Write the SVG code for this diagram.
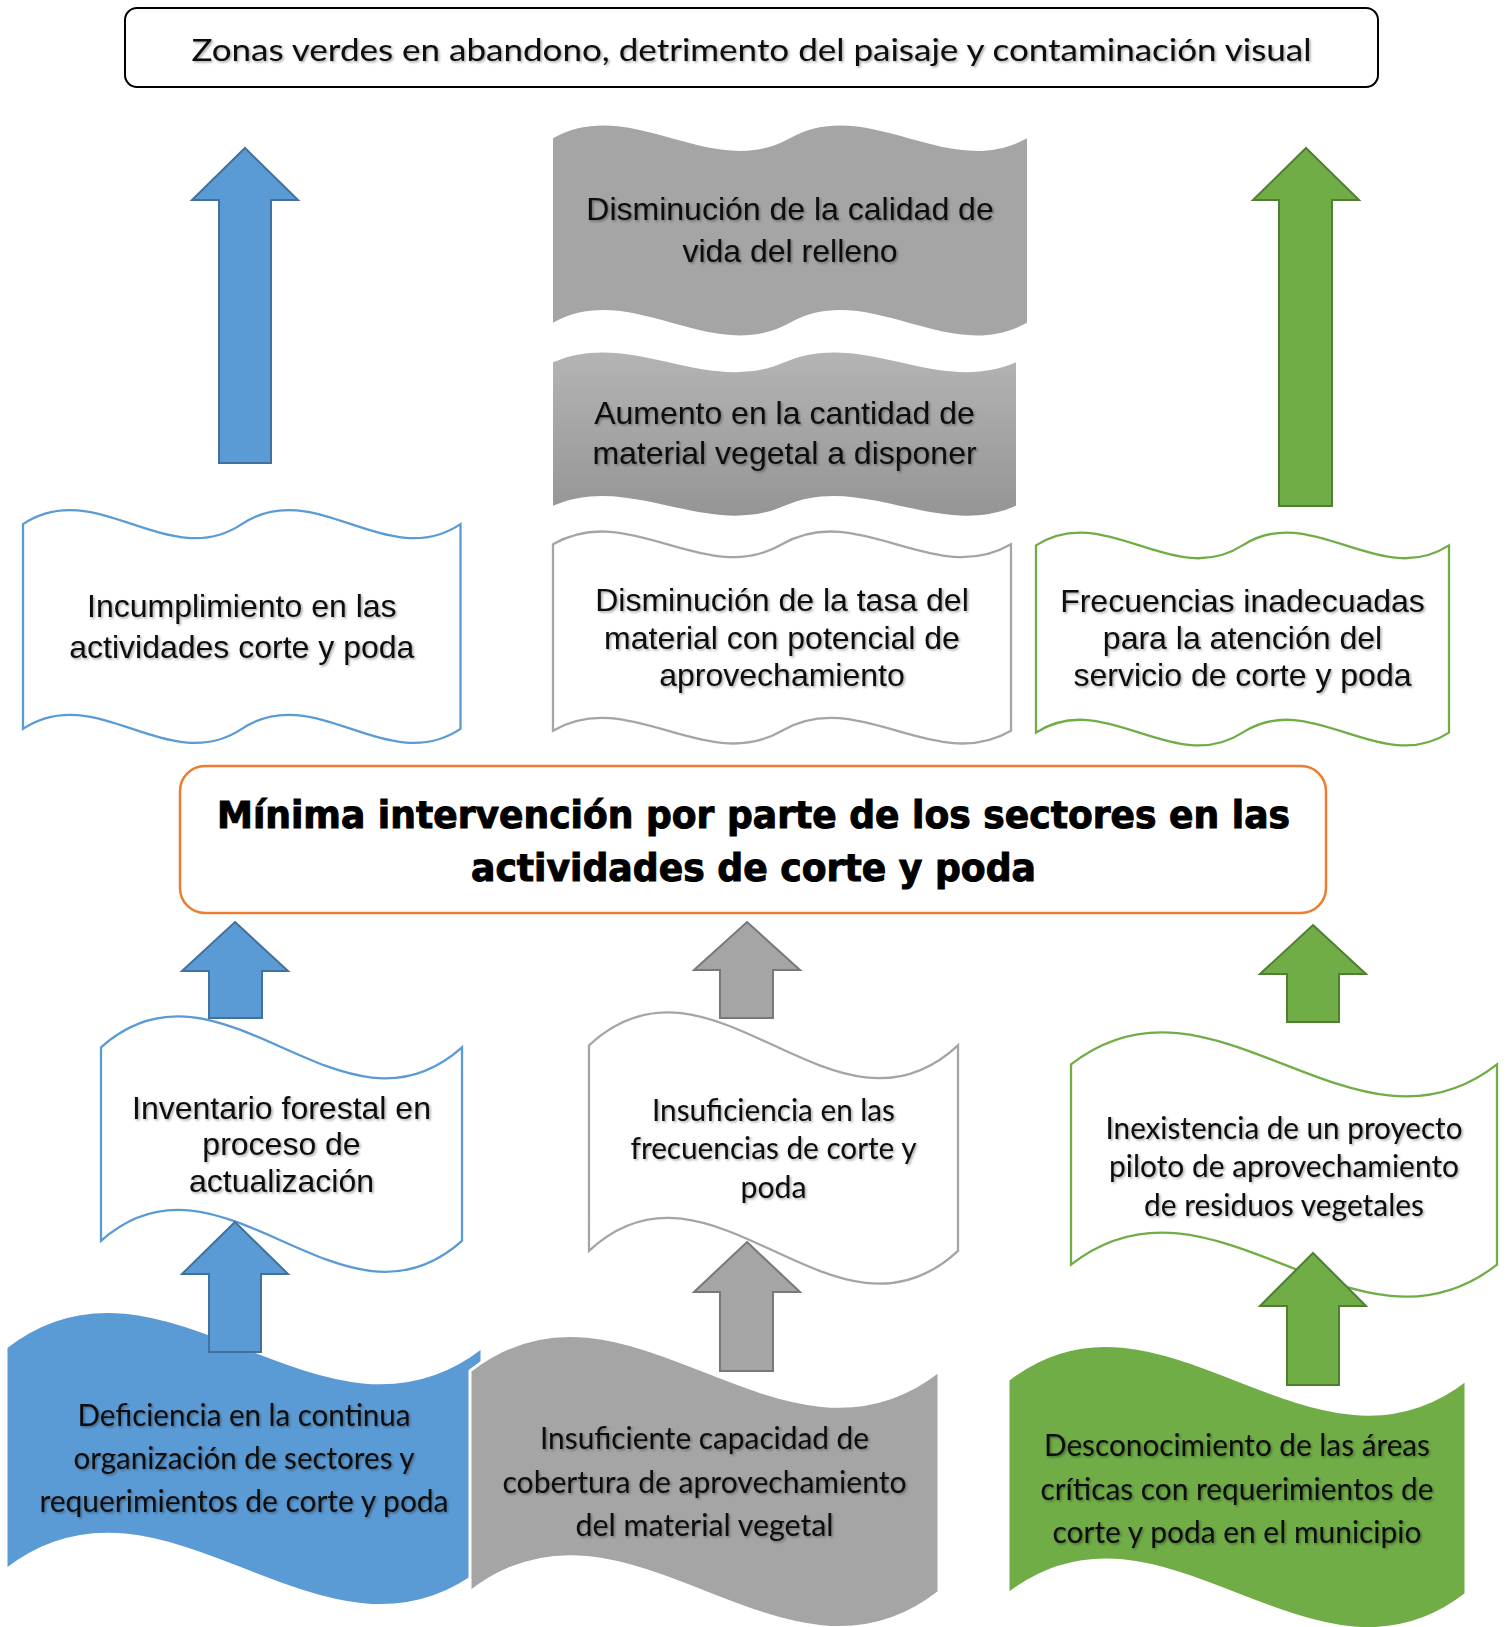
<svg xmlns="http://www.w3.org/2000/svg" width="1507" height="1627" viewBox="0 0 1507 1627">
<defs>
<style>
.ar{font-family:"Liberation Sans",Arial,sans-serif;font-size:32px;fill:#0d0d0d;text-anchor:middle}
.ca{font-family:Lato,"Open Sans",sans-serif;font-size:30px;fill:#0d0d0d;text-anchor:middle}
.bd{font-family:"DejaVu Sans",sans-serif;font-weight:bold;font-size:36.5px;fill:#000;stroke:#000;stroke-width:1;text-anchor:middle}
.sh{filter:url(#ts)}
.wb{fill:#fff;stroke:#5B9BD5;stroke-width:2.3}
.wg{fill:#fff;stroke:#A5A5A5;stroke-width:2.3}
.wn{fill:#fff;stroke:#70AD47;stroke-width:2.3}
.ab{fill:#5B9BD5;stroke:#41719C;stroke-width:2}
.ag{fill:#A5A5A5;stroke:#787878;stroke-width:2}
.an{fill:#70AD47;stroke:#507E32;stroke-width:2}
</style>
<filter id="ts" x="-5%" y="-30%" width="110%" height="160%">
<feDropShadow dx="1.5" dy="1.5" stdDeviation="1" flood-color="#000" flood-opacity="0.35"/>
</filter>
<linearGradient id="g2" x1="0" y1="0" x2="0" y2="1">
<stop offset="0" stop-color="#B4B4B4"/>
<stop offset="1" stop-color="#959595"/>
</linearGradient>
</defs>
<rect width="1507" height="1627" fill="#fff"/>

<g id="n-efecto-principal">
<rect x="125" y="8" width="1253" height="79" rx="12" fill="#fff" stroke="#000" stroke-width="2"/>
<text class="ca sh" x="751.5" y="61" font-size="33.5" textLength="1120" lengthAdjust="spacingAndGlyphs">Zonas verdes en abandono, detrimento del paisaje y contaminación visual</text>
</g>

<g id="n-calidad-relleno">
<path d="M553,138.2 C632,94.2 711,182.2 790,138.2 C869,94.2 948,182.2 1027,138.2 L1027,322.8 C948,366.8 869,278.8 790,322.8 C711,366.8 632,278.8 553,322.8 Z" fill="#A5A5A5"/>
<text class="ar sh" x="790" y="220">Disminución de la calidad de</text>
<text class="ar sh" x="790" y="261.5">vida del relleno</text>
</g>

<g id="n-aumento-material">
<path d="M553,362.3 C630.2,328.1 707.3,396.4 784.5,362.3 C861.7,328.1 938.8,396.4 1016,362.3 L1016,505.8 C938.8,539.9 861.7,471.6 784.5,505.8 C707.3,539.9 630.2,471.6 553,505.8 Z" fill="url(#g2)"/>
<text class="ar sh" x="784.5" y="423.5">Aumento en la cantidad de</text>
<text class="ar sh" x="784.5" y="463.5">material vegetal a disponer</text>
</g>

<g id="n-incumplimiento">
<path class="wb" d="M23,524.1 C95.9,475.4 168.8,572.9 241.8,524.1 C314.7,475.4 387.6,572.9 460.5,524.1 L460.5,728.9 C387.6,777.6 314.7,680.1 241.8,728.9 C168.8,777.6 95.9,680.1 23,728.9 Z"/>
<text class="ar sh" x="241.8" y="616.5">Incumplimiento en las</text>
<text class="ar sh" x="241.8" y="657.5">actividades corte y poda</text>
</g>

<g id="n-tasa-material">
<path class="wg" d="M553,544.3 C629.3,499.9 705.7,588.7 782,544.3 C858.3,499.9 934.7,588.7 1011,544.3 L1011,730.7 C934.7,775.1 858.3,686.3 782,730.7 C705.7,775.1 629.3,686.3 553,730.7 Z"/>
<text class="ar sh" x="782" y="611">Disminución de la tasa del</text>
<text class="ar sh" x="782" y="648.5">material con potencial de</text>
<text class="ar sh" x="782" y="685.5">aprovechamiento</text>
</g>

<g id="n-frecuencias">
<path class="wn" d="M1036,545.4 C1104.8,500.8 1173.7,590 1242.5,545.4 C1311.3,500.8 1380.2,590 1449,545.4 L1449,732.6 C1380.2,777.2 1311.3,688 1242.5,732.6 C1173.7,777.2 1104.8,688 1036,732.6 Z"/>
<text class="ar sh" x="1242.5" y="612">Frecuencias inadecuadas</text>
<text class="ar sh" x="1242.5" y="649">para la atención del</text>
<text class="ar sh" x="1242.5" y="686">servicio de corte y poda</text>
</g>

<g id="n-problema-central">
<rect x="180" y="766" width="1146" height="147" rx="25" fill="#fff" stroke="#ED7D31" stroke-width="2.5"/>
<text class="bd" x="753.5" y="828" textLength="1073" lengthAdjust="spacingAndGlyphs">Mínima intervención por parte de los sectores en las</text>
<text class="bd" x="753.5" y="881" textLength="565" lengthAdjust="spacingAndGlyphs">actividades de corte y poda</text>
</g>

<g id="n-inventario">
<path class="wb" d="M101,1047.3 C221.3,939.8 341.7,1154.8 462,1047.3 L462,1240.8 C341.7,1348.3 221.3,1133.3 101,1240.8 Z"/>
<text class="ar sh" x="281.5" y="1119">Inventario forestal en</text>
<text class="ar sh" x="281.5" y="1155">proceso de</text>
<text class="ar sh" x="281.5" y="1192">actualización</text>
</g>

<g id="n-insuficiencia-frecuencias">
<path class="wg" d="M589,1045.3 C712,931.1 835,1159.5 958,1045.3 L958,1250.8 C835,1365 712,1136.6 589,1250.8 Z"/>
<text class="ca sh" x="773.5" y="1121" textLength="243" lengthAdjust="spacingAndGlyphs">Insuficiencia en las</text>
<text class="ca sh" x="773.5" y="1159" textLength="286" lengthAdjust="spacingAndGlyphs">frecuencias de corte y</text>
<text class="ca sh" x="773.5" y="1197.5" textLength="66" lengthAdjust="spacingAndGlyphs">poda</text>
</g>

<g id="n-inexistencia">
<path class="wn" d="M1071,1064.4 C1213,953.1 1355,1175.6 1497,1064.4 L1497,1264.6 C1355,1375.9 1213,1153.4 1071,1264.6 Z"/>
<text class="ca sh" x="1284" y="1139" textLength="357" lengthAdjust="spacingAndGlyphs">Inexistencia de un proyecto</text>
<text class="ca sh" x="1284" y="1177" textLength="350" lengthAdjust="spacingAndGlyphs">piloto de aprovechamiento</text>
<text class="ca sh" x="1284" y="1216" textLength="280" lengthAdjust="spacingAndGlyphs">de residuos vegetales</text>
</g>

<g id="n-deficiencia">
<path d="M6,1347.1 C164.7,1223.4 323.3,1470.9 482,1347.1 L482,1569.9 C323.3,1693.6 164.7,1446.1 6,1569.9 Z" fill="#5B9BD5" stroke="#fff" stroke-width="3"/>
<text class="ca sh" x="244" y="1426" textLength="333" lengthAdjust="spacingAndGlyphs">Deficiencia en la continua</text>
<text class="ca sh" x="244" y="1469" textLength="341" lengthAdjust="spacingAndGlyphs">organización de sectores y</text>
<text class="ca sh" x="244" y="1512" textLength="409" lengthAdjust="spacingAndGlyphs">requerimientos de corte y poda</text>
</g>

<g id="n-insuficiente-capacidad">
<path d="M470,1370.9 C626.3,1248 782.7,1493.8 939,1370.9 L939,1592.1 C782.7,1715 626.3,1469.2 470,1592.1 Z" fill="#A5A5A5" stroke="#fff" stroke-width="3"/>
<text class="ca sh" x="704.5" y="1449" textLength="329" lengthAdjust="spacingAndGlyphs">Insuficiente capacidad de</text>
<text class="ca sh" x="704.5" y="1493" textLength="404" lengthAdjust="spacingAndGlyphs">cobertura de aprovechamiento</text>
<text class="ca sh" x="704.5" y="1536" textLength="258" lengthAdjust="spacingAndGlyphs">del material vegetal</text>
</g>

<g id="n-desconocimiento">
<path d="M1008,1379.8 C1160.7,1260.6 1313.3,1499 1466,1379.8 L1466,1594.3 C1313.3,1713.5 1160.7,1475.1 1008,1594.3 Z" fill="#70AD47" stroke="#fff" stroke-width="3"/>
<text class="ca sh" x="1237" y="1456" textLength="386" lengthAdjust="spacingAndGlyphs">Desconocimiento de las áreas</text>
<text class="ca sh" x="1237" y="1500" textLength="393" lengthAdjust="spacingAndGlyphs">críticas con requerimientos de</text>
<text class="ca sh" x="1237" y="1543" textLength="369" lengthAdjust="spacingAndGlyphs">corte y poda en el municipio</text>
</g>

<g id="connectors">
<polygon class="ab" points="245,148 298,200 271,200 271,463 219,463 219,200 192,200"/>
<polygon class="an" points="1306,148 1359,200 1332,200 1332,506 1279,506 1279,200 1253,200"/>
<polygon class="ab" points="235,922 288,971 262,971 262,1018 209,1018 209,971 182,971"/>
<polygon class="ag" points="747,922 800,970 773,970 773,1018 720,1018 720,970 694,970"/>
<polygon class="an" points="1313,925 1366,974 1339,974 1339,1022 1287,1022 1287,974 1260,974"/>
<polygon class="ab" points="235,1222 288,1274 261,1274 261,1352 209,1352 209,1274 182,1274"/>
<polygon class="ag" points="747,1242 800,1292 773,1292 773,1371 720,1371 720,1292 694,1292"/>
<polygon class="an" points="1313,1253 1366,1306 1339,1306 1339,1385 1287,1385 1287,1306 1260,1306"/>
</g>
</svg>
